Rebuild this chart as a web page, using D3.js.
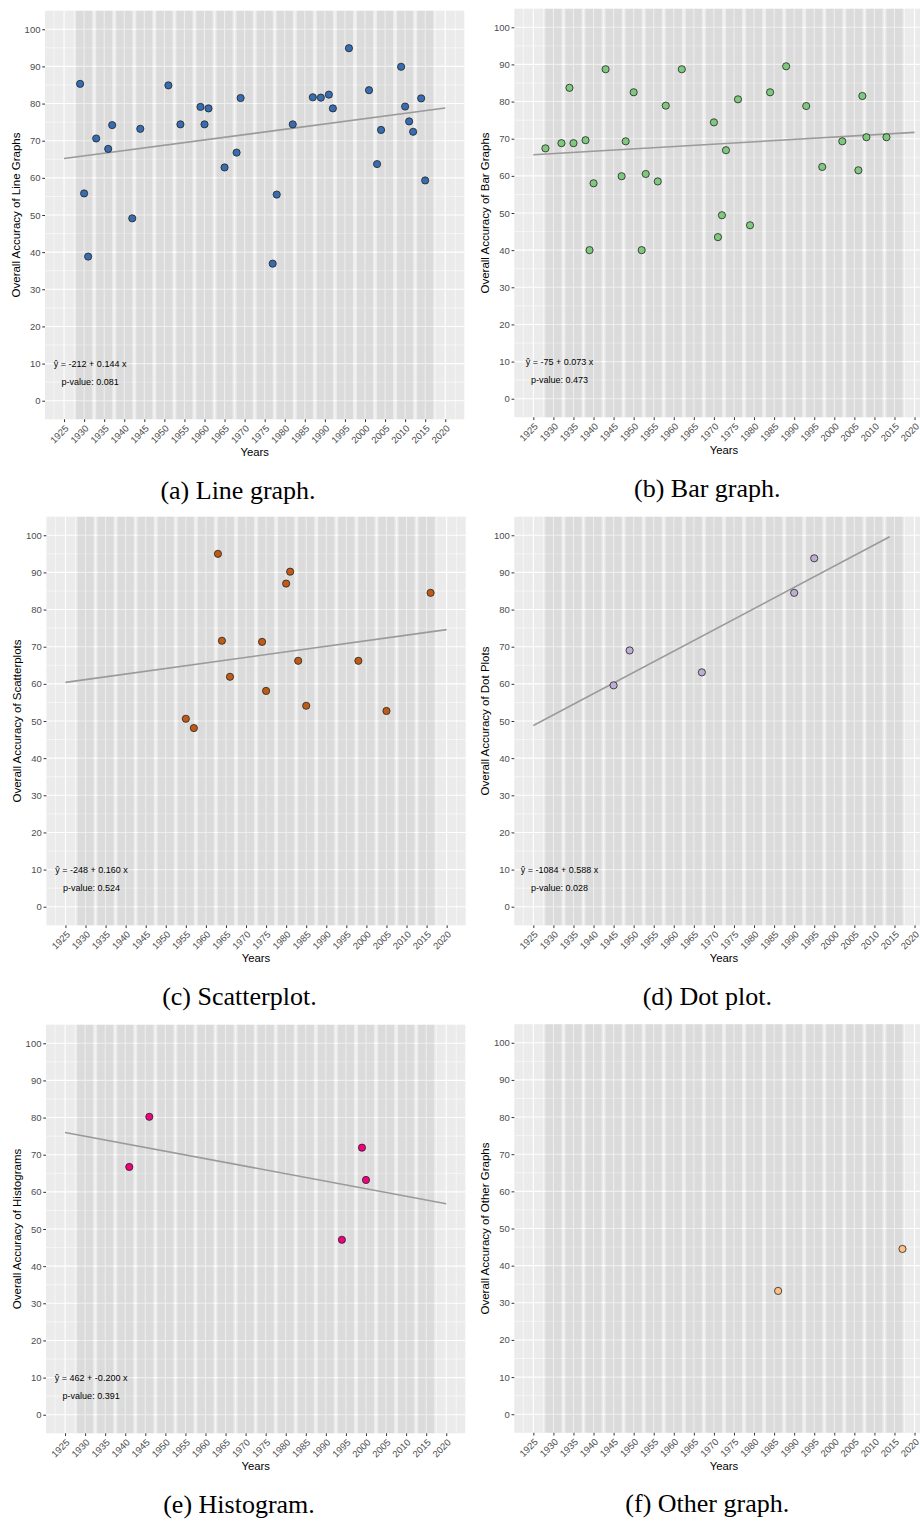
<!DOCTYPE html>
<html>
<head>
<meta charset="utf-8">
<script src="https://cdn.jsdelivr.net/npm/d3@7"></script>
<style>
  body { margin: 0; background: #fff; }
</style>
</head>
<body>
<svg id="vis"></svg>
<script>
const plotWidth = 920;
const plotHeight = 1524;
const panelW = 419.3;
const panelH = 408.6;

const svg = d3.select('#vis')
            .attr('width', plotWidth)
            .attr('height', plotHeight);

// tick labels
const yearTicks = [1925, 1930, 1935, 1940, 1945, 1950, 1955, 1960, 1965, 1970,
                   1975, 1980, 1985, 1990, 1995, 2000, 2005, 2010, 2015, 2020];
const accuracyTicks = [0, 10, 20, 30, 40, 50, 60, 70, 80, 90, 100];

// (a) line graphs
const lineYears = [1929, 1930, 1931, 1933, 1936, 1937, 1942, 1944, 1951, 1954, 1959,
                   1960, 1961, 1965, 1968, 1969, 1977, 1978, 1982, 1987, 1989, 1991,
                   1992, 1996, 2001, 2003, 2004, 2009, 2010, 2011, 2012, 2014, 2015];
const lineAcc = [85.3, 55.8, 38.8, 70.6, 67.8, 74.2, 49.1, 73.2, 84.9, 74.4, 79.1,
                 74.4, 78.7, 62.8, 66.8, 81.5, 36.9, 55.5, 74.4, 81.7, 81.6, 82.4,
                 78.7, 94.9, 83.6, 63.7, 72.9, 89.9, 79.2, 75.2, 72.4, 81.4, 59.3];
const lineFit = [[1925, 65.2], [2020, 78.8]];

// (b) bar graphs
const barYears = [1928, 1932, 1934, 1935, 1938, 1939, 1940, 1943, 1947, 1948, 1950,
                  1952, 1953, 1956, 1958, 1962, 1970, 1971, 1972, 1973, 1976, 1979,
                  1984, 1988, 1993, 1997, 2002, 2006, 2007, 2008, 2013];
const barAcc = [67.4, 68.8, 83.7, 68.8, 69.6, 40.0, 58.0, 88.7, 59.9, 69.3, 82.5,
                40.0, 60.5, 58.5, 78.9, 88.7, 74.4, 43.5, 49.4, 66.9, 80.6, 46.7,
                82.5, 89.5, 78.8, 62.4, 69.3, 61.5, 81.5, 70.4, 70.4];
const barFit = [[1925, 65.7], [2020, 71.7]];

// (c) scatterplots
const scatterYears = [1955, 1957, 1963, 1964, 1966, 1974, 1975, 1980, 1981, 1983,
                      1985, 1998, 2005, 2016];
const scatterAcc = [50.6, 48.1, 95.0, 71.6, 61.9, 71.3, 58.1, 87.0, 90.2, 66.2,
                    54.1, 66.2, 52.7, 84.5];
const scatterFit = [[1925, 60.4], [2020, 74.6]];

// (d) dot plots
const dotYears = [1945, 1949, 1967, 1990, 1995];
const dotAcc = [59.6, 69.0, 63.1, 84.5, 93.8];
const dotFit = [[1925, 48.8], [2013.8, 99.6]];

// (e) histograms
const histYears = [1941, 1946, 1994, 1999, 2000];
const histAcc = [66.7, 80.2, 47.1, 71.9, 63.2];
const histFit = [[1925, 76.0], [2020, 56.8]];

// (f) other graphs
const otherYears = [1986, 2017];
const otherAcc = [33.2, 44.5];

const panels = [
    {years: lineYears, acc: lineAcc, fit: lineFit, fill: '#386CB0',
     eq: '-212 + 0.144 x', p: '0.081', ytitle: 'Overall Accuracy of Line Graphs',
     caption: '(a) Line graph.', left: 45, top: 10.7},
    {years: barYears, acc: barAcc, fit: barFit, fill: '#7FC97F',
     eq: '-75 + 0.073 x', p: '0.473', ytitle: 'Overall Accuracy of Bar Graphs',
     caption: '(b) Bar graph.', left: 514.3, top: 8.7},
    {years: scatterYears, acc: scatterAcc, fit: scatterFit, fill: '#BF5B17',
     eq: '-248 + 0.160 x', p: '0.524', ytitle: 'Overall Accuracy of Scatterplots',
     caption: '(c) Scatterplot.', left: 46.4, top: 516.7},
    {years: dotYears, acc: dotAcc, fit: dotFit, fill: '#BEAED4',
     eq: '-1084 + 0.588 x', p: '0.028', ytitle: 'Overall Accuracy of Dot Plots',
     caption: '(d) Dot plot.', left: 514.3, top: 516.7},
    {years: histYears, acc: histAcc, fit: histFit, fill: '#F0027F',
     eq: '462 + -0.200 x', p: '0.391', ytitle: 'Overall Accuracy of Histograms',
     caption: '(e) Histogram.', left: 46, top: 1024.7},
    {years: otherYears, acc: otherAcc, fit: null, fill: '#FDC086',
     eq: null, p: null, ytitle: 'Overall Accuracy of Other Graphs',
     caption: '(f) Other graph.', left: 514.3, top: 1024.2},
];

const sans = '"Liberation Sans", Arial, sans-serif';


function drawPanel(p) {
    const g = svg.append('g');
    const x = d3.scaleLinear().domain([1920.25, 2024.75]).range([p.left, p.left + panelW]);
    const y = d3.scaleLinear().domain([-5, 105]).range([p.top + panelH, p.top]);

    g.append('rect')
        .attr('x', p.left).attr('y', p.top)
        .attr('width', panelW).attr('height', panelH)
        .attr('fill', '#EBEBEB');

    // minor grid
    const minorX = yearTicks.map(t => t - 2.5).concat([yearTicks[yearTicks.length - 1] + 2.5]);
    const minorY = accuracyTicks.slice(1).map(t => t - 5);
    g.selectAll('.vminor').data(minorX).enter().append('line')
        .attr('x1', d => x(d)).attr('x2', d => x(d))
        .attr('y1', p.top).attr('y2', p.top + panelH)
        .attr('stroke', '#fff').attr('stroke-width', 0.55);
    g.selectAll('.hminor').data(minorY).enter().append('line')
        .attr('y1', d => y(d)).attr('y2', d => y(d))
        .attr('x1', p.left).attr('x2', p.left + panelW)
        .attr('stroke', '#fff').attr('stroke-width', 0.55);
    // major grid
    g.selectAll('.vmajor').data(yearTicks).enter().append('line')
        .attr('x1', d => x(d)).attr('x2', d => x(d))
        .attr('y1', p.top).attr('y2', p.top + panelH)
        .attr('stroke', '#fff').attr('stroke-width', 1.1);
    g.selectAll('.hmajor').data(accuracyTicks).enter().append('line')
        .attr('y1', d => y(d)).attr('y2', d => y(d))
        .attr('x1', p.left).attr('x2', p.left + panelW)
        .attr('stroke', '#fff').attr('stroke-width', 1.1);

    // shaded 5-year bands
    const bands = yearTicks.filter(t => t >= 1930 && t <= 2015);
    g.selectAll('.band').data(bands).enter().append('rect')
        .attr('x', d => x(d - 2))
        .attr('width', d => x(d + 2) - x(d - 2))
        .attr('y', p.top).attr('height', panelH)
        .attr('fill', '#000').attr('fill-opacity', 0.068);

    // regression line
    if (p.fit) {
        const line = d3.line().x(d => x(d[0])).y(d => y(d[1]));
        g.append('path')
            .attr('d', line(p.fit))
            .attr('fill', 'none')
            .attr('stroke', '#9A9A9A')
            .attr('stroke-width', 1.6);
    }

    // points
    g.selectAll('.pt').data(p.years).enter().append('circle')
        .attr('cx', d => x(d))
        .attr('cy', (d, i) => y(p.acc[i]))
        .attr('r', 3.6)
        .attr('fill', p.fill)
        .attr('stroke', '#222')
        .attr('stroke-width', 0.8);

    // annotation
    if (p.eq) {
        g.append('text')
            .attr('x', x(1931.5)).attr('y', y(10)).attr('dy', '0.35em')
            .attr('text-anchor', 'middle')
            .style('font-family', sans).style('font-size', '9px').attr('fill', '#000')
            .text('ŷ = ' + p.eq);
        g.append('text')
            .attr('x', x(1931.5)).attr('y', y(5)).attr('dy', '0.35em')
            .attr('text-anchor', 'middle')
            .style('font-family', sans).style('font-size', '9px').attr('fill', '#000')
            .text('p-value: ' + p.p);
    }

    // axes
    const yAxis = g.append('g')
        .attr('transform', `translate(${p.left},0)`)
        .call(d3.axisLeft(y).tickValues(accuracyTicks).tickSize(2.75).tickPadding(1.8));
    const xAxis = g.append('g')
        .attr('transform', `translate(0,${p.top + panelH})`)
        .call(d3.axisBottom(x).tickValues(yearTicks).tickSize(2.75).tickFormat(d3.format('d')));
    [yAxis, xAxis].forEach(a => {
        a.select('.domain').remove();
        a.selectAll('line').attr('stroke', '#333');
        a.selectAll('text')
            .attr('fill', '#4D4D4D')
            .style('font-family', sans)
            .style('font-size', '9.5px');
    });
    xAxis.selectAll('text')
        .attr('x', 0).attr('y', 0).attr('dy', '0.7em')
        .attr('text-anchor', 'end')
        .attr('transform', 'translate(0,5) rotate(-45)');

    // titles
    g.append('text')
        .attr('x', p.left + panelW / 2).attr('y', p.top + panelH + 37)
        .attr('text-anchor', 'middle')
        .style('font-family', sans).style('font-size', '11.3px').attr('fill', '#000')
        .text('Years');
    g.append('text')
        .attr('transform', `translate(${p.left - 25},${p.top + panelH / 2}) rotate(-90)`)
        .attr('text-anchor', 'middle')
        .style('font-family', sans).style('font-size', '11.5px').attr('fill', '#000')
        .text(p.ytitle);

    // caption
    g.append('text')
        .attr('x', p.left + 193).attr('y', p.top + 488)
        .attr('text-anchor', 'middle')
        .style('font-family', '"Liberation Serif", "Times New Roman", serif')
        .style('font-size', '26px').attr('fill', '#000')
        .text(p.caption);
}


panels.forEach(drawPanel);
</script>
</body>
</html>
